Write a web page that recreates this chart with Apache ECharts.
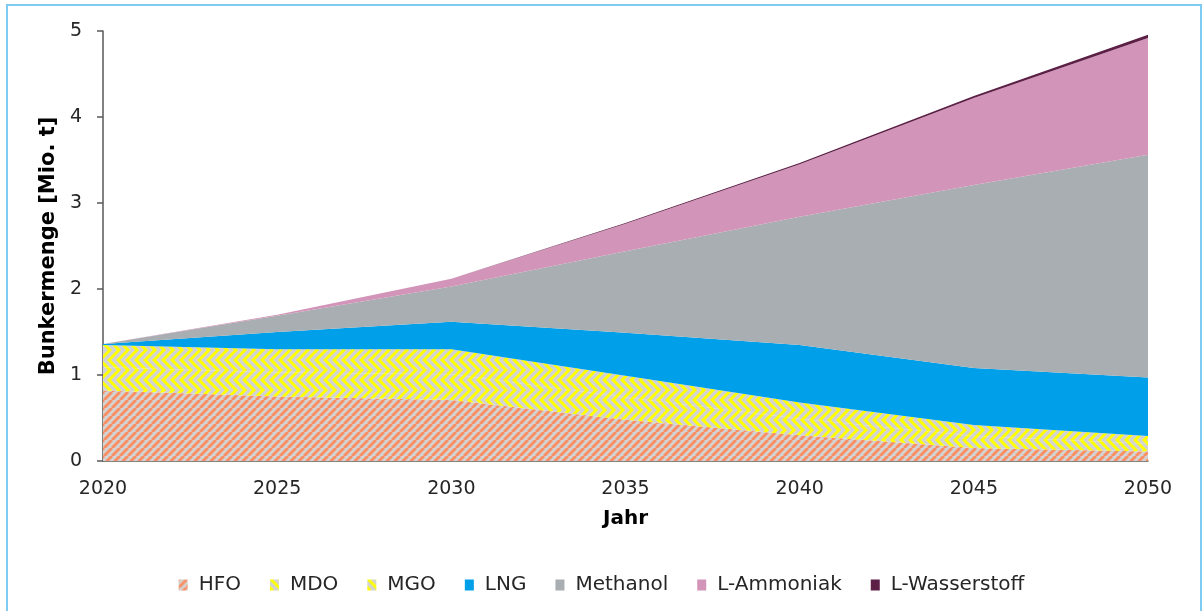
<!DOCTYPE html>
<html>
<head>
<meta charset="utf-8">
<script src="https://cdn.jsdelivr.net/npm/echarts@6/dist/echarts.min.js"></script>
<style>
html,body{margin:0;padding:0;background:#fff;}
#chart{width:1203px;height:611px;}
</style>
</head>
<body>
<div id="chart"></div>
<script>
// ---- data ----
const years = ['2020', '2025', '2030', '2035', '2040', '2045', '2050'];
const seriesNames = ['HFO', 'MDO', 'MGO', 'LNG', 'Methanol', 'L-Ammoniak', 'L-Wasserstoff'];
const hfo         = [0.82, 0.75, 0.71, 0.48, 0.30, 0.15, 0.11];
const mdo         = [0.27, 0.28, 0.30, 0.26, 0.19, 0.14, 0.09];
const mgo         = [0.26, 0.27, 0.29, 0.25, 0.19, 0.13, 0.09];
const lng         = [0.01, 0.20, 0.32, 0.50, 0.67, 0.66, 0.68];
const methanol    = [0.00, 0.19, 0.41, 0.95, 1.49, 2.13, 2.59];
const ammoniak    = [0.00, 0.01, 0.09, 0.32, 0.61, 1.01, 1.36];
const wasserstoff = [0.00, 0.00, 0.00, 0.008, 0.015, 0.025, 0.035];
const yTicks = [0, 1, 2, 3, 4, 5];

// ---- patterns ----
function stripePattern(bg, fg) {
  const c = document.createElement('canvas');
  c.width = 8; c.height = 8;
  const g = c.getContext('2d');
  g.fillStyle = bg; g.fillRect(0, 0, 8, 8);
  g.strokeStyle = fg; g.lineWidth = 3;
  for (let k = -8; k <= 16; k += 8) {
    g.beginPath(); g.moveTo(k, 8); g.lineTo(k + 8, 0); g.stroke();
  }
  return c;
}
function chevronPattern(bg, fg) {
  const W = 9, H = 20;
  const c = document.createElement('canvas');
  c.width = W; c.height = H;
  const g = c.getContext('2d');
  g.fillStyle = bg; g.fillRect(0, 0, W, H);
  g.strokeStyle = fg; g.lineWidth = 3; g.lineJoin = 'miter';
  for (let k = -2 * W; k <= 2 * W; k += W) {
    g.beginPath(); g.moveTo(k, -1); g.lineTo(k + H / 2 + 1, H / 2); g.lineTo(k, H + 1); g.stroke();
  }
  return c;
}
const hfoFill = { image: stripePattern('#d3d3d3', '#f98f62'), repeat: 'repeat' };
const zigFill = { image: chevronPattern('#d3d3d3', '#ffff00'), repeat: 'repeat' };

const colors = [hfoFill, zigFill, zigFill, '#009fe9', '#a8aeb1', '#d294b8', '#5c1f45'];
const values = [hfo, mdo, mgo, lng, methanol, ammoniak, wasserstoff];

const FONT = 'DejaVu Sans';
const chart = echarts.init(document.getElementById('chart'));
chart.setOption({
  animation: false,
  backgroundColor: '#fff',
  grid: { left: 103, right: 55, top: 31, bottom: 150, containLabel: false },
  graphic: [{
    type: 'rect', z: 100, silent: true,
    shape: { x: 7, y: 5, width: 1194, height: 640 },
    style: { fill: 'none', stroke: '#80cbf2', lineWidth: 2 }
  }],
  legend: {
    bottom: 11, left: 'center',
    icon: 'rect', itemWidth: 9, itemHeight: 11, itemGap: 29,
    textStyle: { fontFamily: FONT, fontSize: 20, color: '#262626', padding: [0, 0, 0, 6] },
    data: seriesNames
  },
  xAxis: {
    type: 'category', data: years, boundaryGap: false,
    name: 'Jahr', nameLocation: 'middle', nameGap: 48,
    nameTextStyle: { fontFamily: FONT, fontSize: 20, fontWeight: 'bold', color: '#000' },
    axisLine: { lineStyle: { color: '#595959', width: 1.5 } },
    axisTick: { show: false },
    axisLabel: { fontFamily: FONT, fontSize: 19, color: '#262626', margin: 19 }
  },
  yAxis: {
    type: 'value', min: 0, max: 5, interval: 1,
    name: 'Bunkermenge [Mio. t]', nameLocation: 'middle', nameGap: 42,
    nameTextStyle: { fontFamily: FONT, fontSize: 21, fontWeight: 'bold', color: '#000' },
    axisLine: { show: true, lineStyle: { color: '#595959', width: 1.5 } },
    axisTick: { show: true, length: 6, lineStyle: { color: '#595959', width: 1.5 } },
    splitLine: { show: false },
    axisLabel: { fontFamily: FONT, fontSize: 19, color: '#262626', margin: 21,
      formatter: v => yTicks.includes(v) ? String(v) : '' }
  },
  series: seriesNames.map((n, i) => ({
    name: n, type: 'line', stack: 'total', data: values[i],
    symbol: 'none', smooth: false,
    lineStyle: { width: 0 },
    itemStyle: { color: colors[i] },
    areaStyle: { color: colors[i], opacity: 1 },
    emphasis: { disabled: true }
  }))
});
</script>
</body>
</html>
